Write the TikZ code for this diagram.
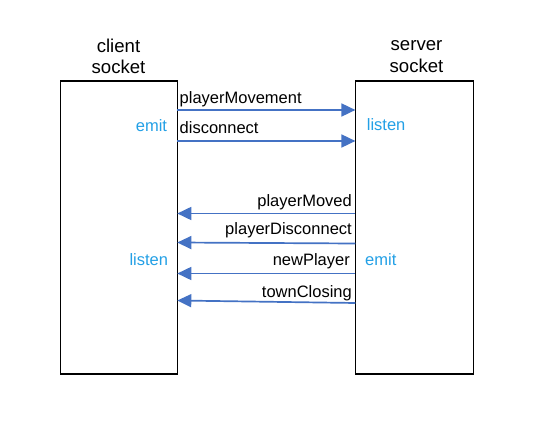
\documentclass[tikz,border=0pt]{standalone}
\usepackage{fontspec}
\setmainfont{Liberation Sans}
\usetikzlibrary{arrows.meta}
\definecolor{arrowblue}{RGB}{68,114,196}
\definecolor{labelblue}{RGB}{35,160,230}
\tikzset{
  sockbox/.style={draw=black, line width=1.3pt, inner sep=0pt, outer sep=0pt},
  title/.style={font=\fontsize{18.6}{22}\selectfont, inner sep=0pt, align=center},
  msg/.style={font=\fontsize{16.5}{19}\selectfont, inner sep=0pt, text=black},
  role/.style={font=\fontsize{16.5}{19}\selectfont, inner sep=0pt, text=labelblue},
  conn/.style={draw=arrowblue, line width=1.7pt, -{Triangle[length=14pt,width=13pt]}}
}
\begin{document}
\begin{tikzpicture}[x=1pt,y=-1pt]
\useasboundingbox[fill=white] (0,0) rectangle (535,427);
\node[sockbox, minimum width=117pt, minimum height=293pt] (client) at (118.8,227.5) {};
\node[sockbox, minimum width=118pt, minimum height=293pt] (server) at (414.4,227.5) {};
\node[title, anchor=base] (ct1) at (118.5,53) {client};
\node[title, anchor=base] (ct2) at (118.5,74) {socket};
\node[title, anchor=base] (st1) at (416.5,51) {server};
\node[title, anchor=base] (st2) at (416.5,72.5) {socket};
% client to server
\draw[conn] (client.east |- 0,110) -- (server.west |- 0,110);
\draw[conn] (client.east |- 0,141) -- (server.west |- 0,141);
\node[msg, anchor=base west] (m1) at (179.5,103.3) {playerMovement};
\node[msg, anchor=base west] (m2) at (179.5,133.3) {disconnect};
\node[role, anchor=base west] (cemit) at (135.7,131.7) {emit};
\node[role, anchor=base west] (slisten) at (366.7,131) {listen};
% server to client
\draw[conn] (server.west |- 0,213.5) -- (client.east |- 0,213.5);
\draw[conn] (server.west |- 0,243.5) -- (client.east |- 0,242.5);
\draw[conn] (server.west |- 0,273.5) -- (client.east |- 0,273.5);
\draw[conn] (server.west |- 0,303) -- (client.east |- 0,300.5);
\node[msg, anchor=base east] (m3) at (352,206.7) {playerMoved};
\node[msg, anchor=base east] (m4) at (352,234.3) {playerDisconnect};
\node[msg, anchor=base east] (m5) at (350,266) {newPlayer};
\node[msg, anchor=base east] (m6) at (352,297.3) {townClosing};
\node[role, anchor=base west] (clisten) at (129.3,266) {listen};
\node[role, anchor=base west] (semit) at (365,266) {emit};
\end{tikzpicture}
\end{document}
